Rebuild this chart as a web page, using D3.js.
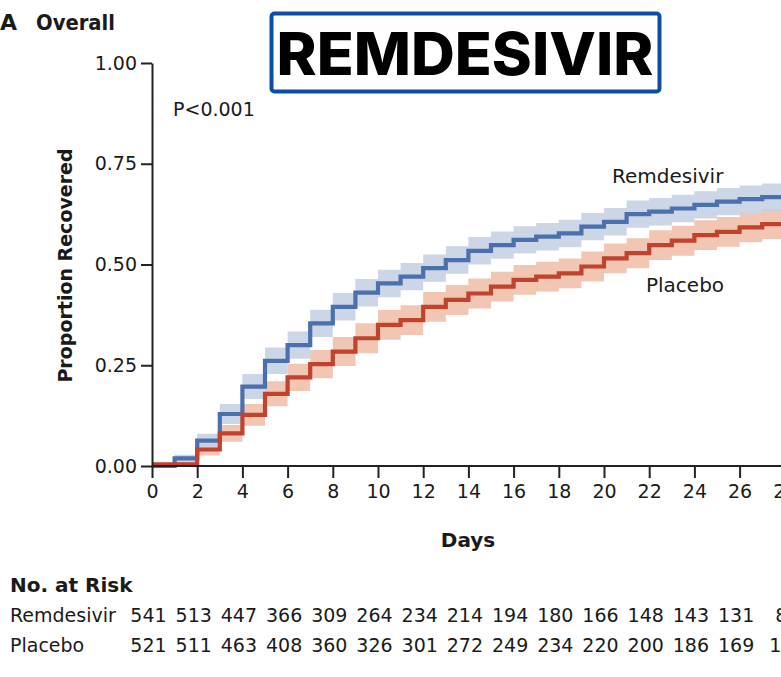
<!DOCTYPE html>
<html>
<head>
<meta charset="utf-8">
<script src="https://cdn.jsdelivr.net/npm/d3@7/dist/d3.min.js"></script>
<style>
  html, body { margin: 0; padding: 0; background: #fff; }
  svg { display: block; }
  text { font-family: "DejaVu Sans", sans-serif; fill: #1a1a1a; }
</style>
</head>
<body>
<svg id="chart" width="781" height="677"></svg>
<script>
// Kaplan-Meier estimates of recovery, one value per day interval [d, d+1)
const days = [0,1,2,3,4,5,6,7,8,9,10,11,12,13,14,15,16,17,18,19,20,21,22,23,24,25,26,27];

const remdesivirEst = [0, 0.019, 0.063, 0.129, 0.197, 0.261, 0.300, 0.354, 0.395, 0.430, 0.453, 0.470, 0.491, 0.511,
  0.534, 0.548, 0.561, 0.569, 0.577, 0.594, 0.606, 0.625, 0.631, 0.639, 0.648, 0.656, 0.662, 0.667];
const remdesivirLo = [0, 0.010, 0.046, 0.104, 0.166, 0.228, 0.266, 0.320, 0.361, 0.396, 0.419, 0.436, 0.457, 0.477,
  0.500, 0.514, 0.527, 0.535, 0.543, 0.560, 0.572, 0.591, 0.597, 0.605, 0.614, 0.622, 0.628, 0.633];
const remdesivirHi = [0, 0.028, 0.080, 0.154, 0.228, 0.294, 0.334, 0.388, 0.429, 0.464, 0.487, 0.504, 0.525, 0.545,
  0.568, 0.582, 0.595, 0.603, 0.611, 0.628, 0.640, 0.659, 0.665, 0.673, 0.682, 0.690, 0.696, 0.701];

const placeboEst = [0.004, 0.004, 0.041, 0.081, 0.127, 0.179, 0.220, 0.253, 0.284, 0.317, 0.350, 0.362, 0.395, 0.412,
  0.428, 0.445, 0.462, 0.470, 0.478, 0.495, 0.515, 0.528, 0.548, 0.559, 0.573, 0.581, 0.592, 0.600];
const placeboLo = [0, 0, 0.026, 0.060, 0.100, 0.148, 0.186, 0.218, 0.248, 0.280, 0.313, 0.325, 0.358, 0.375,
  0.391, 0.408, 0.425, 0.433, 0.441, 0.458, 0.478, 0.491, 0.511, 0.522, 0.536, 0.544, 0.555, 0.563];
const placeboHi = [0.008, 0.010, 0.056, 0.102, 0.154, 0.210, 0.254, 0.288, 0.320, 0.354, 0.387, 0.399, 0.432, 0.449,
  0.465, 0.482, 0.499, 0.507, 0.515, 0.532, 0.552, 0.565, 0.585, 0.596, 0.610, 0.618, 0.629, 0.637];

// Axis ticks
const xTicks = [0,2,4,6,8,10,12,14,16,18,20,22,24,26,28];
const yTicks = [0, 0.25, 0.5, 0.75, 1.0];

// Number at risk, every second day
const riskDays = [0,2,4,6,8,10,12,14,16,18,20,22,24,26,28];
const remdesivirRisk = [541,513,447,366,309,264,234,214,194,180,166,148,143,131,8];
const placeboRisk = [521,511,463,408,360,326,301,272,249,234,220,200,186,169,10];

const colors = {
  remLine: "#4a70ad", remBand: "#c3cfe3",
  plaLine: "#c1432e", plaBand: "#efc0aa",
  axis: "#222"
};

const svg = d3.select("#chart");
svg.append("rect").attr("width", 781).attr("height", 677).attr("fill", "#fff");

const x = d3.scaleLinear().domain([0, 28]).range([152, 784.8]);
const y = d3.scaleLinear().domain([0, 1]).range([466, 63]);

// Step series, continued through the end of the last day
function series(est, lo, hi) {
  const pts = days.map((d, i) => ({ day: d, v: est[i], lo: lo[i], hi: hi[i] }));
  const last = pts[pts.length - 1];
  pts.push({ day: last.day + 1.5, v: last.v, lo: last.lo, hi: last.hi });
  return pts;
}
const rem = series(remdesivirEst, remdesivirLo, remdesivirHi);
const pla = series(placeboEst, placeboLo, placeboHi);

const band = d3.area().curve(d3.curveStepAfter)
  .x(d => x(d.day)).y0(d => y(d.lo)).y1(d => y(d.hi));
const line = d3.line().curve(d3.curveStepAfter)
  .x(d => x(d.day)).y(d => y(d.v));

const plot = svg.append("g");
plot.append("path").datum(pla).attr("d", band).attr("fill", colors.plaBand).attr("opacity", 0.9);
plot.append("path").datum(rem).attr("d", band).attr("fill", colors.remBand).attr("opacity", 0.85);
plot.append("path").datum(rem).attr("d", line).attr("fill", "none")
  .attr("stroke", colors.remLine).attr("stroke-width", 4.2);
plot.append("path").datum(pla).attr("d", line).attr("fill", "none")
  .attr("stroke", colors.plaLine).attr("stroke-width", 4.2);

// Axes
const yAxis = d3.axisLeft(y).tickValues(yTicks).tickFormat(d3.format(".2f"))
  .tickSize(11).tickSizeOuter(0).tickPadding(4);
const gy = svg.append("g").attr("transform", `translate(${x(0)},0)`).call(yAxis);
gy.selectAll("text").style("font-size", "19px").style("font-family", "DejaVu Sans");

const xAxis = d3.axisBottom(x).tickValues(xTicks).tickFormat(d3.format("d"))
  .tickSize(12).tickSizeOuter(0).tickPadding(7);
const gx = svg.append("g").attr("transform", `translate(0,${y(0)})`).call(xAxis);
gx.selectAll("text").style("font-size", "19px").style("font-family", "DejaVu Sans");

[gx, gy].forEach(g => {
  g.select(".domain").attr("stroke", colors.axis).attr("stroke-width", 2);
  g.selectAll(".tick line").attr("stroke", colors.axis).attr("stroke-width", 2);
  g.selectAll(".tick text").attr("fill", "#1a1a1a");
});
// extend the x baseline to the y-axis tick at zero
gx.select(".domain").attr("d", `M${x(0)},0H781`);

// Axis titles
svg.append("text").attr("transform", `translate(72,${(y(0) + y(1)) / 2 + 1}) rotate(-90)`)
  .attr("text-anchor", "middle").style("font-size", "19px").style("font-weight", "bold")
  .text("Proportion Recovered");
svg.append("text").attr("x", 468).attr("y", 547).attr("text-anchor", "middle")
  .style("font-size", "20px").style("font-weight", "bold").text("Days");

// Panel title
svg.append("text").attr("x", 0).attr("y", 30)
  .style("font-size", "22px").style("font-weight", "bold").text("A");
svg.append("text").attr("x", 36).attr("y", 30)
  .attr("textLength", 79).attr("lengthAdjust", "spacingAndGlyphs")
  .style("font-size", "22px").style("font-weight", "bold").text("Overall");

// Drug banner
svg.append("rect").attr("x", 271.5).attr("y", 13.5).attr("width", 388).attr("height", 78)
  .attr("rx", 3).attr("fill", "#fff").attr("stroke", "#0c4ea2").attr("stroke-width", 4);
svg.append("text").attr("x", 465).attr("y", 75).attr("text-anchor", "middle")
  .attr("textLength", 377).attr("lengthAdjust", "spacingAndGlyphs")
  .style("font-family", "Inter, 'DejaVu Sans', sans-serif").style("font-size", "59px")
  .style("font-weight", "800").style("fill", "#000").text("REMDESIVIR");

// Annotations
svg.append("text").attr("x", 173).attr("y", 116).style("font-size", "19px").text("P<0.001");
svg.append("text").attr("x", 612).attr("y", 183).style("font-size", "20px").text("Remdesivir");
svg.append("text").attr("x", 646).attr("y", 292).style("font-size", "20px").text("Placebo");

// Number-at-risk table
svg.append("text").attr("x", 10).attr("y", 592)
  .style("font-size", "20px").style("font-weight", "bold").text("No. at Risk");
const rows = [
  { label: "Remdesivir", values: remdesivirRisk, y: 622 },
  { label: "Placebo", values: placeboRisk, y: 652 }
];
rows.forEach(r => {
  svg.append("text").attr("x", 10).attr("y", r.y).style("font-size", "19px").text(r.label);
  svg.append("g").selectAll("text").data(r.values).join("text")
    .attr("x", (d, i) => x(riskDays[i]) - 3.5).attr("y", r.y)
    .attr("text-anchor", "middle").style("font-size", "19px").text(d => d);
});
</script>
</body>
</html>
